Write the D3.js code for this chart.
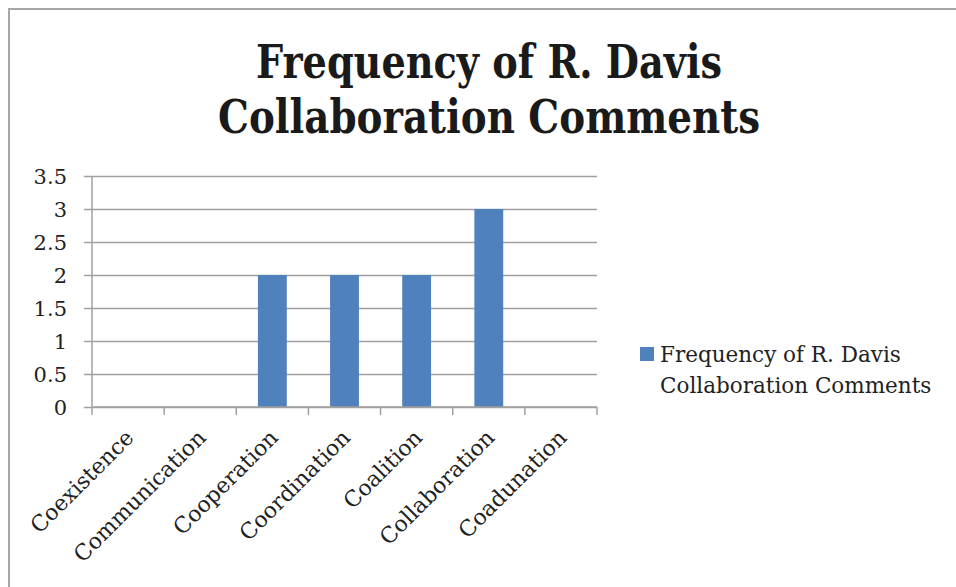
<!DOCTYPE html>
<html>
<head>
<meta charset="utf-8">
<script src="https://cdn.jsdelivr.net/npm/d3@7"></script>
<style>
  body { margin: 0; background: #fff; }
  text { font-family: "DejaVu Serif", "Liberation Serif", serif; fill: #222; }
</style>
</head>
<body>
<div id="my_dataviz"></div>
<script>
// chart data
var categories = ["Coexistence", "Communication", "Cooperation", "Coordination", "Coalition", "Collaboration", "Coadunation"];
var counts = [0, 0, 2, 2, 2, 3, 0];
var yTicks = [0, 0.5, 1, 1.5, 2, 2.5, 3, 3.5];
var titleLines = ["Frequency of R. Davis", "Collaboration Comments"];
var seriesName = ["Frequency of R. Davis", "Collaboration Comments"];

var W = 956, H = 587;
var margin = {top: 176, left: 92},
    width = 597 - margin.left,
    height = 407 - margin.top;

var svg = d3.select("#my_dataviz")
  .append("svg")
    .attr("width", W)
    .attr("height", H);

// outer chart frame
svg.append("rect")
  .attr("x", 9).attr("y", 9)
  .attr("width", W + 10).attr("height", H + 10)
  .style("fill", "none")
  .style("stroke", "#a6a6a6")
  .style("stroke-width", 2);

// title (widths)
var titleWidths = [466, 542];
svg.append("text")
  .attr("text-anchor", "middle")
  .style("font-weight", "bold")
  .style("font-size", "47px")
  .style("fill", "#1a1a1a")
  .selectAll("tspan")
  .data(titleLines)
  .enter()
  .append("tspan")
    .attr("x", 489)
    .attr("y", function(d, i) { return 78 + i * 55; })
    .attr("textLength", function(d, i) { return titleWidths[i]; })
    .attr("lengthAdjust", "spacingAndGlyphs")
    .text(function(d) { return d; });

var g = svg.append("g")
  .attr("transform", "translate(" + margin.left + "," + margin.top + ")");

var x = d3.scaleBand()
  .domain(categories)
  .range([0, width])
  .paddingInner(0.6)
  .paddingOuter(0.3);

var y = d3.scaleLinear()
  .domain([0, 3.5])
  .range([height, 0]);

// gridlines + y ticks
g.append("g")
  .call(d3.axisLeft(y).tickValues(yTicks).tickFormat(function(d) { return d; }))
  .call(function(s) {
    s.select(".domain").remove();
    s.selectAll(".tick line")
      .attr("x1", -8).attr("x2", width)
      .style("stroke", "#a0a0a0").style("stroke-width", 1.5);
    s.selectAll(".tick text")
      .attr("x", -25)
      .attr("dy", "0.36em")
      .style("font-size", "21px")
      .style("font-family", "DejaVu Serif, serif")
      .style("fill", "#222");
  });

// y axis line
g.append("line")
  .attr("x1", 0).attr("x2", 0)
  .attr("y1", 0).attr("y2", height)
  .style("stroke", "#a0a0a0").style("stroke-width", 1.5);

// bars
g.selectAll("rect.bar")
  .data(counts)
  .enter()
  .append("rect")
    .attr("class", "bar")
    .attr("x", function(d, i) { return x(categories[i]); })
    .attr("width", x.bandwidth())
    .attr("y", function(d) { return y(d); })
    .attr("height", function(d) { return height - y(d); })
    .style("fill", "#4f81bd");

// x axis with ticks at category boundaries
var step = width / categories.length;
var bounds = d3.range(categories.length + 1).map(function(i) { return i * step; });
var xAxis = g.append("g").attr("transform", "translate(0," + height + ")");
xAxis.append("line")
  .attr("x1", 0).attr("x2", width)
  .style("stroke", "#a0a0a0").style("stroke-width", 1.5);
xAxis.selectAll("line.tk")
  .data(bounds)
  .enter()
  .append("line")
    .attr("class", "tk")
    .attr("x1", function(d) { return d; }).attr("x2", function(d) { return d; })
    .attr("y1", 0).attr("y2", 8)
    .style("stroke", "#a0a0a0").style("stroke-width", 1.5);

xAxis.selectAll("text.lbl")
  .data(categories)
  .enter()
  .append("text")
    .attr("class", "lbl")
    .attr("text-anchor", "end")
    .style("font-size", "22px")
    .attr("transform", function(d) {
      return "translate(" + (x(d) + x.bandwidth() / 2 + 7) + ",32) rotate(-45)";
    })
    .text(function(d) { return d; });

// legend
var legend = svg.append("g");
legend.append("rect")
  .attr("x", 640).attr("y", 347)
  .attr("width", 14).attr("height", 14)
  .style("fill", "#4f81bd");
legend.append("text")
  .style("font-size", "21.5px")
  .selectAll("tspan")
  .data(seriesName)
  .enter()
  .append("tspan")
    .attr("x", 660)
    .attr("y", function(d, i) { return 362 + i * 31; })
    .text(function(d) { return d; });
</script>
</body>
</html>
